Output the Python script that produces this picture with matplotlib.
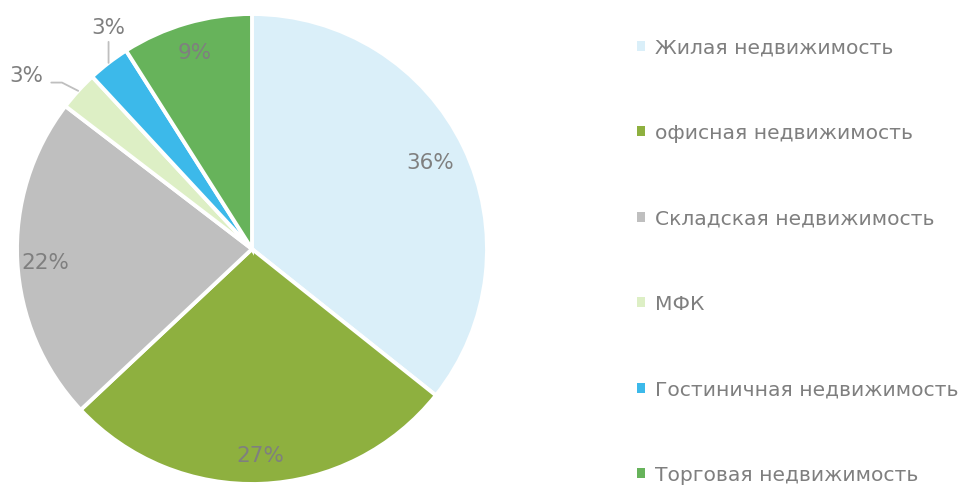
import matplotlib
matplotlib.use("Agg")
import matplotlib.pyplot as plt
import numpy as np

categories = ["Жилая недвижимость", "офисная недвижимость", "Складская недвижимость",
              "МФК", "Гостиничная недвижимость", "Торговая недвижимость"]
values = [35.7, 27.3, 22.4, 2.7, 2.9, 9.0]
pct_labels = ["36%", "27%", "22%", "3%", "3%", "9%"]
colors = ["#DAEFF9", "#8EB03F", "#BFBFBF", "#DDEFC5", "#3CB9EA", "#67B35B"]
text_color = "#7F7F7F"

fig = plt.figure(figsize=(9.62, 4.88), dpi=100)
W, H = 962, 488
ax = fig.add_axes([17 / W, 4 / H, 470 / W, 470 / H])

wedges, _ = ax.pie(values, colors=colors, startangle=90, counterclock=False,
                   radius=1.0, wedgeprops=dict(edgecolor="white", linewidth=2.8))
ax.set_xlim(-1, 1)
ax.set_ylim(-1, 1)
ax.set_aspect("equal")
ax.axis("off")

inside_r = [0.84, 0.88, 0.88, None, None, 0.87]
for i, w in enumerate(wedges):
    mid = np.deg2rad((w.theta1 + w.theta2) / 2)
    if inside_r[i] is not None:
        r = inside_r[i]
        ax.text(r * np.cos(mid), r * np.sin(mid) - (0.015 if i == 2 else 0), pct_labels[i],
                ha="center", va="center", fontsize=15.5, color=text_color)

# outside labels with leader lines
# Гостиничная (index 4)
w = wedges[4]
mid = np.deg2rad((w.theta1 + w.theta2) / 2)
ex, ey = np.cos(mid), np.sin(mid)
ax.annotate(pct_labels[4], xy=(ex, ey), xytext=(ex, ey + 0.124),
            ha="center", va="baseline", fontsize=15.5, color=text_color,
            arrowprops=dict(arrowstyle="-", color="#BFBFBF", lw=1.3, shrinkA=1, shrinkB=0),
            annotation_clip=False)
# МФК (index 3)
w = wedges[3]
mid = np.deg2rad((w.theta1 + w.theta2) / 2)
ex, ey = np.cos(mid), np.sin(mid)
ax.annotate(pct_labels[3], xy=(ex, ey),
            xytext=(ex - 0.15, ey + 0.065),
            ha="right", va="center", fontsize=15.5, color=text_color,
            arrowprops=dict(arrowstyle="-", color="#BFBFBF", lw=1.3, shrinkA=4, shrinkB=0,
                            relpos=(1.0, 0.15),
                            connectionstyle="angle,angleA=0,angleB=153,rad=0"),
            annotation_clip=False)

leg = fig.legend(wedges, categories, loc="upper left",
                 bbox_to_anchor=(637 / W, 1 - 38 / H), frameon=False,
                 fontsize=14.6, labelcolor=text_color, handlelength=0.37,
                 handleheight=0.37, handletextpad=0.5, labelspacing=3.28,
                 borderaxespad=0, borderpad=0)
for h in leg.legend_handles:
    h.set_edgecolor("none")

fig.savefig("out.png", dpi=100)
